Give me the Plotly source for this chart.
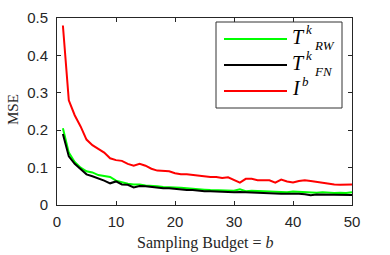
import plotly.graph_objects as go

budget = list(range(1, 51))
mse_rw = [0.205, 0.14, 0.115, 0.100, 0.090, 0.087, 0.080, 0.077, 0.075, 0.065,
          0.060, 0.057, 0.055, 0.055, 0.052, 0.052, 0.050, 0.048, 0.048, 0.047,
          0.046, 0.045, 0.043, 0.042, 0.041, 0.040, 0.040, 0.039, 0.039, 0.038,
          0.042, 0.037, 0.038, 0.037, 0.037, 0.036, 0.036, 0.035, 0.034, 0.036,
          0.035, 0.034, 0.034, 0.033, 0.034, 0.033, 0.032, 0.033, 0.032, 0.034]
mse_fn = [0.190, 0.130, 0.110, 0.095, 0.082, 0.077, 0.072, 0.065, 0.058, 0.063,
          0.055, 0.054, 0.047, 0.051, 0.050, 0.048, 0.046, 0.045, 0.045, 0.043,
          0.040, 0.040, 0.040, 0.038, 0.037, 0.037, 0.036, 0.035, 0.035, 0.034,
          0.035, 0.034, 0.033, 0.033, 0.033, 0.032, 0.031, 0.030, 0.030, 0.031,
          0.030, 0.029, 0.026, 0.028, 0.028, 0.027, 0.028, 0.026, 0.027, 0.027]
mse_i = [0.480, 0.280, 0.240, 0.210, 0.175, 0.160, 0.150, 0.140, 0.125, 0.120,
         0.118, 0.110, 0.105, 0.110, 0.105, 0.097, 0.092, 0.092, 0.090, 0.085,
         0.082, 0.082, 0.080, 0.079, 0.078, 0.075, 0.075, 0.072, 0.074, 0.068,
         0.060, 0.070, 0.070, 0.066, 0.066, 0.066, 0.060, 0.068, 0.063, 0.060,
         0.064, 0.066, 0.064, 0.062, 0.058, 0.058, 0.055, 0.054, 0.055, 0.055]
x_ticks = [0, 10, 20, 30, 40, 50]
y_ticks = [0, 0.1, 0.2, 0.3, 0.4, 0.5]
x_title = "Sampling Budget = <i>b</i>"
y_title = "MSE"

W, H = 390, 255
L, R, T, B = 57, 352, 18, 205

fig = go.Figure()
fig.add_trace(go.Scatter(x=budget, y=mse_rw, mode="lines", line=dict(color="#00ff00", width=2), showlegend=False))
fig.add_trace(go.Scatter(x=budget, y=mse_fn, mode="lines", line=dict(color="#000000", width=2), showlegend=False))
fig.add_trace(go.Scatter(x=budget, y=mse_i, mode="lines", line=dict(color="#ff0000", width=2), showlegend=False))

def px(x):
    return (x - L) / (R - L)

def py(y):
    return (B - y) / (B - T)

shapes = [dict(type="rect", xref="paper", yref="paper", x0=px(216), x1=px(342), y0=py(108), y1=py(22),
               line=dict(color="#333333", width=1), fillcolor="white")]
annotations = []
serif = "Liberation Serif"

def ann(x, y, text, size, anchor="left"):
    annotations.append(dict(xref="paper", yref="paper", x=px(x), y=py(y), text=text, showarrow=False,
                            xanchor=anchor, yanchor="middle", borderpad=0,
                            font=dict(family=serif, size=size, color="black")))

rows = [("#00ff00", 39, "RW"), ("#000000", 65, "FN"), ("#ff0000", 91, None)]
for color, yy, sub in rows:
    shapes.append(dict(type="line", xref="paper", yref="paper", x0=px(224), x1=px(287), y0=py(yy), y1=py(yy),
                       line=dict(color=color, width=2)))
    if sub:
        ann(291, yy - 2, "<i>T</i>", 20)
        ann(313, yy - 10, "<i>k</i>", 13, anchor="right")
        ann(313, yy + 6, "<i>" + sub + "</i>", 13)
    else:
        ann(291, yy - 3, "<i>I</i>", 20)
        ann(310, yy - 10, "<i>b</i>", 13, anchor="right")

annotations.append(dict(xref="paper", yref="paper", x=px(205), y=py(243), text=x_title, showarrow=False,
                        xanchor="center", yanchor="middle", font=dict(family=serif, size=16, color="#262626")))
annotations.append(dict(xref="paper", yref="paper", x=px(13), y=py(110), text=y_title, showarrow=False, textangle=-90,
                        xanchor="center", yanchor="middle", font=dict(family=serif, size=15, color="#262626")))

fig.update_layout(
    width=W, height=H,
    margin=dict(l=L, r=W - R, t=T, b=H - B),
    paper_bgcolor="white", plot_bgcolor="white",
    shapes=shapes, annotations=annotations,
    font=dict(family="Liberation Sans", size=15, color="#262626"),
)
fig.update_xaxes(range=[0, 50], tickvals=x_ticks, ticks="inside", ticklen=4, tickcolor="#262626",
                 ticklabelstandoff=3, automargin=False,
                 showline=True, linecolor="#262626", linewidth=1, mirror="ticks", showgrid=False, zeroline=False)
fig.update_yaxes(range=[0, 0.5], tickvals=y_ticks, ticktext=["0", "0.1", "0.2", "0.3", "0.4", "0.5"],
                 ticks="inside", ticklen=4, tickcolor="#262626", ticklabelstandoff=5, automargin=False,
                 showline=True, linecolor="#262626", linewidth=1, mirror="ticks", showgrid=False, zeroline=False)

fig.write_html("out.html")
